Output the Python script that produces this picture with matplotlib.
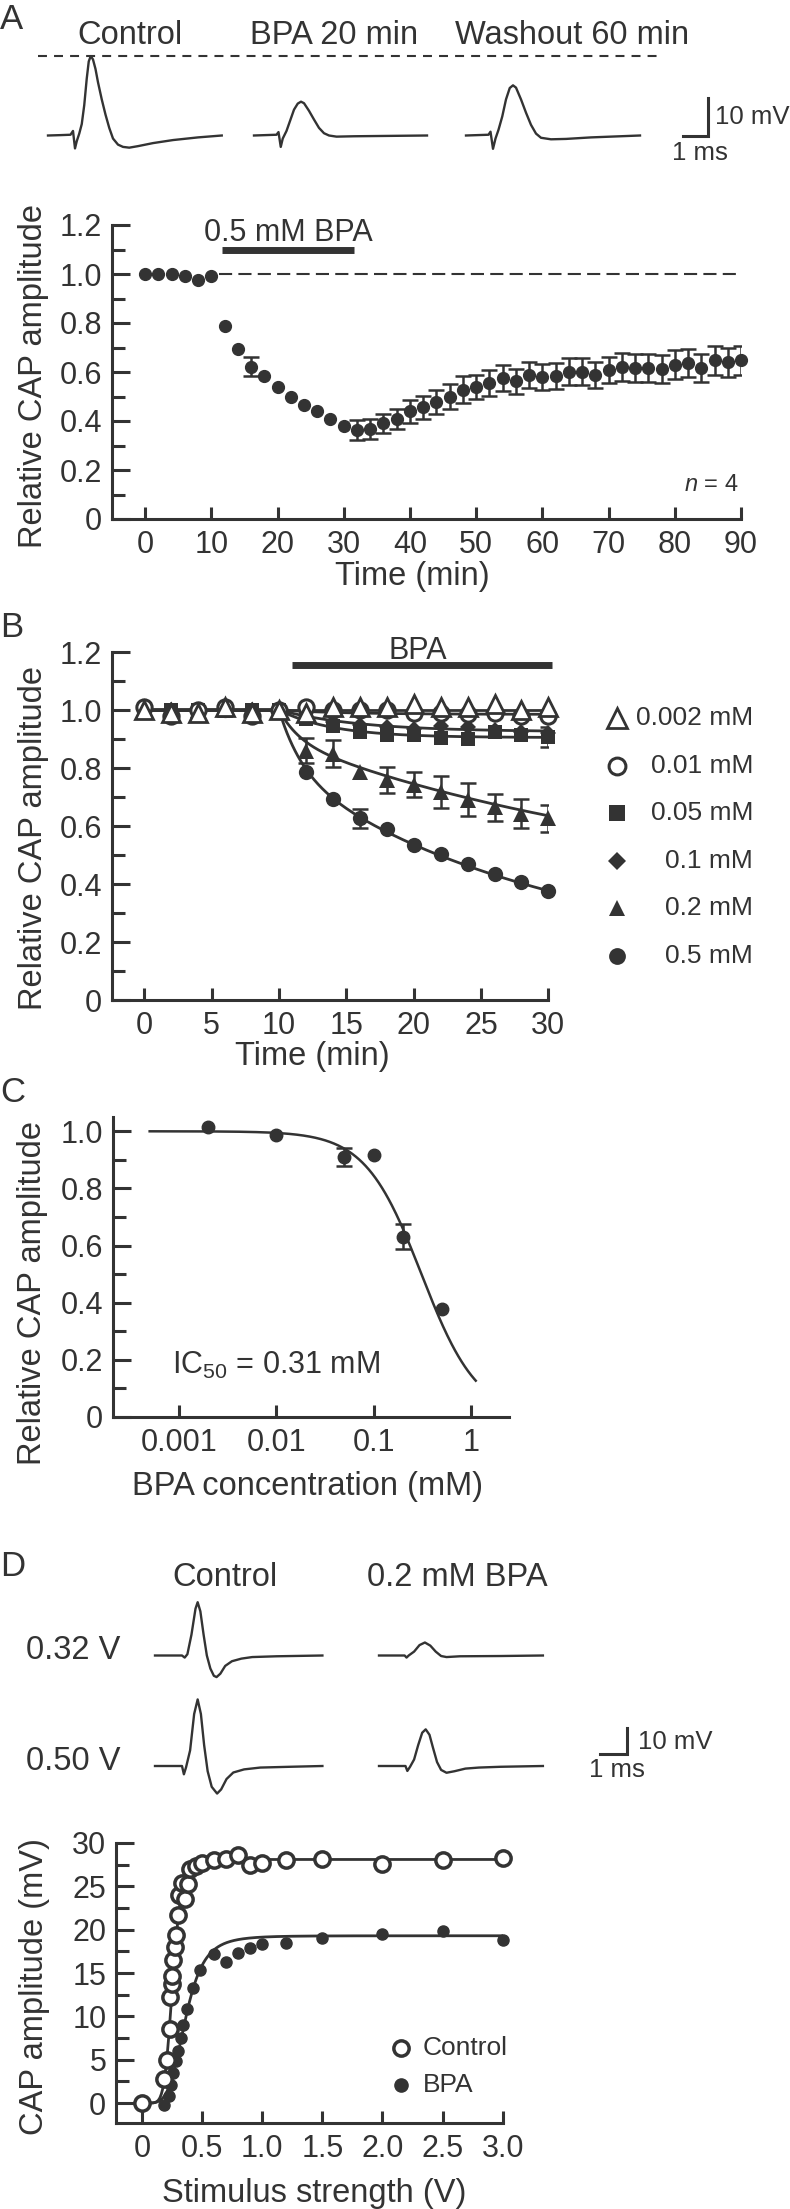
"""
BPA block of compound action potentials - four panel figure (A-D).
"""

import numpy as np
import matplotlib
matplotlib.use("Agg")
import matplotlib.pyplot as plt
from matplotlib.ticker import MultipleLocator, FixedLocator, FuncFormatter, NullLocator

# ---------------------------------------------------------------------------
# DATA
# ---------------------------------------------------------------------------

# A, example CAP traces: time (ms) and voltage (mV, relative to baseline)
A_CTRL_T = [0, 0.5, 0.9, 1.0, 1.08, 1.15, 1.25, 1.35, 1.45, 1.55, 1.63, 1.71, 1.8, 1.9,
            2.0, 2.15, 2.3, 2.45, 2.6, 2.8, 3.0, 3.25, 3.6, 4.2, 5.0, 6.0, 6.95]
A_CTRL_V = [0, 0.1, 0.2, 1.2, -3.4, -1.5, 0.5, 3.0, 8.0, 15.0, 19.5, 20.9, 20.0, 17.5,
            14.0, 9.5, 5.5, 2.0, -0.8, -2.4, -3.0, -3.2, -2.8, -2.0, -1.2, -0.5, 0]
A_BPA_T = [0, 0.9, 0.98, 1.07, 1.15, 1.3, 1.45, 1.6, 1.75, 1.88, 2.0, 2.2, 2.4, 2.6,
           2.8, 3.0, 3.3, 4.0, 6.92]
A_BPA_V = [0, 0.2, 0.9, -3.0, -0.8, 1.2, 4.0, 6.8, 8.4, 8.9, 8.5, 6.5, 4.2, 2.0,
           0.6, 0.0, -0.3, -0.2, 0]
A_WASH_T = [0, 0.9, 0.98, 1.08, 1.18, 1.3, 1.45, 1.6, 1.75, 1.88, 2.0, 2.2, 2.4, 2.6,
            2.8, 3.0, 3.4, 4.0, 5.0, 6.96]
A_WASH_V = [0, 0.2, 1.0, -3.5, -0.8, 1.5, 5.0, 9.5, 12.5, 13.2, 12.6, 9.5, 6.0, 2.8,
            0.5, -0.6, -1.0, -0.9, -0.5, 0]
A_TRACE_TITLES = ["Control", "BPA 20 min", "Washout 60 min"]

# A, time course with 0.5 mM BPA
A_TIME = [0, 2, 4, 6, 8, 10, 12, 14, 16, 18, 20, 22, 24, 26, 28, 30, 32, 34, 36, 38,
          40, 42, 44, 46, 48, 50, 52, 54, 56, 58, 60, 62, 64, 66, 68, 70, 72, 74, 76,
          78, 80, 82, 84, 86, 88, 90]
A_AMP = [1.000, 0.999, 0.998, 0.990, 0.975, 0.993, 0.788, 0.693, 0.622, 0.585,
         0.539, 0.500, 0.467, 0.442, 0.409, 0.379, 0.363, 0.368, 0.390, 0.409,
         0.440, 0.457, 0.476, 0.500, 0.528, 0.539, 0.555, 0.575, 0.562, 0.587,
         0.579, 0.582, 0.602, 0.602, 0.589, 0.609, 0.620, 0.616, 0.616, 0.612,
         0.629, 0.636, 0.616, 0.647, 0.639, 0.647]
A_ERR = [0, 0, 0, 0, 0, 0, 0, 0, 0.038, 0, 0, 0, 0, 0, 0, 0, 0.040, 0.040, 0.040, 0.040,
         0.047, 0.047, 0.049, 0.050, 0.054, 0.050, 0.054, 0.054, 0.052, 0.054,
         0.054, 0.053, 0.054, 0.054, 0.053, 0.054, 0.057, 0.056, 0.057, 0.057,
         0.059, 0.058, 0.058, 0.059, 0.059, 0.059]
A_BPA_ON = [11.6, 31.6]
A_N = 4

# B, time course for each concentration
B_TIME = [0, 2, 4, 6, 8, 10, 12, 14, 16, 18, 20, 22, 24, 26, 28, 30]
B_LABELS = ["0.002 mM", "0.01 mM", "0.05 mM", "0.1 mM", "0.2 mM", "0.5 mM"]
B_AMP = [
    [1.00, 0.99, 0.99, 1.01, 0.99, 1.00, 0.99, 1.01, 1.01, 1.01, 1.02, 1.01, 1.01, 1.02, 1.00, 1.01],
    [1.01, 0.98, 1.00, 1.01, 0.98, 1.00, 1.01, 1.00, 1.00, 1.00, 0.99, 0.99, 0.985, 0.99, 0.98, 0.98],
    [1.00, 1.00, 1.00, 1.00, 1.00, 1.00, 0.97, 0.945, 0.925, 0.915, 0.914, 0.903, 0.90, 0.925, 0.914, 0.907],
    [1.00, 1.00, 1.00, 1.00, 1.00, 1.00, 0.975, 0.96, 0.95, 0.94, 0.935, 0.945, 0.94, 0.93, 0.925, 0.92],
    [1.00, 1.00, 1.00, 1.00, 1.00, 1.00, 0.86, 0.85, 0.787, 0.76, 0.743, 0.718, 0.69, 0.664, 0.643, 0.626],
    [1.00, 0.99, 1.00, 1.00, 0.99, 1.00, 0.787, 0.692, 0.626, 0.588, 0.536, 0.505, 0.469, 0.436, 0.408, 0.377],
]
B_ERR = [
    [0] * 16,
    [0] * 16,
    [0, 0, 0, 0, 0, 0, 0, 0, 0, 0, 0, 0, 0, 0, 0, 0.033],
    [0] * 16,
    [0, 0, 0, 0, 0, 0, 0.043, 0.045, 0, 0.045, 0.044, 0.055, 0.057, 0.048, 0.050, 0.045],
    [0, 0, 0, 0, 0, 0, 0, 0, 0.034, 0, 0, 0, 0, 0, 0, 0],
]
# exponential fits: plateau, fast amplitude, fast tau, slow tau (min), onset 10 min
B_PLATEAU = [1.0, 0.985, 0.905, 0.925, 0.358, 0.132]
B_FAST_AMP = [0.0, 0.0, 0.0, 0.0, 0.102, 0.203]
B_TAU_FAST = [1.0, 1.0, 1.0, 1.0, 1.5, 1.7]
B_TAU_SLOW = [5.0, 5.0, 4.0, 6.0, 30.0, 20.0]
B_ONSET = 10
B_BPA_ON = [11.0, 30.3]

# C, concentration-response
C_CONC = [0.002, 0.01, 0.05, 0.1, 0.2, 0.5]
C_AMP = [1.015, 0.986, 0.910, 0.918, 0.631, 0.378]
C_ERR = [0, 0, 0.032, 0, 0.044, 0]
C_IC50 = 0.31
C_HILL = 1.5
C_FIT_RANGE = [5e-4, 1.12]

# D, example traces at two stimulus strengths (ms, mV)
D_CTRL_032_T = [0, 1.0, 1.1, 1.2, 1.35, 1.5, 1.58, 1.68, 1.8, 1.92, 2.05, 2.18, 2.28,
                2.42, 2.6, 2.85, 3.2, 3.6, 4.5, 6.2]
D_CTRL_032_V = [0, 0, -0.8, 0.5, 8.0, 18.0, 20.5, 17.0, 8.0, 0, -5.0, -7.8, -8.3,
                -7.0, -4.0, -2.2, -1.2, -0.6, -0.3, 0]
D_CTRL_050_T = [0, 1.0, 1.07, 1.15, 1.3, 1.45, 1.58, 1.7, 1.82, 1.95, 2.1, 2.3, 2.45,
                2.65, 2.9, 3.3, 3.9, 5.0, 6.2]
D_CTRL_050_V = [0, 0, -3.2, -0.5, 6.0, 20.0, 25.6, 20.0, 8.0, -2.0, -8.0, -10.6, -9.0,
                -5.0, -2.5, -1.3, -0.6, -0.3, 0]
D_BPA_032_T = [0, 0.95, 1.02, 1.1, 1.3, 1.5, 1.7, 1.9, 2.1, 2.3, 2.5, 3.0, 4.5, 6.07]
D_BPA_032_V = [0, 0, -0.8, 0, 1.5, 4.0, 5.0, 3.8, 1.5, -0.2, -0.6, -0.3, -0.2, 0]
D_BPA_050_T = [0, 0.98, 1.05, 1.15, 1.3, 1.45, 1.6, 1.73, 1.87, 2.0, 2.15, 2.3, 2.5,
               2.8, 3.2, 3.7, 4.5, 6.07]
D_BPA_050_V = [0, 0, -1.9, -0.3, 2.5, 8.0, 12.8, 14.1, 12.0, 7.0, 1.5, -1.5, -2.6,
               -2.0, -1.0, -0.6, -0.3, 0]
D_ROW_LABELS = ["0.32 V", "0.50 V"]
D_COL_LABELS = ["Control", "0.2 mM BPA"]

# D, input-output relation
D_CTRL_V = [0, 0.18, 0.21, 0.23, 0.23, 0.25, 0.25, 0.26, 0.27, 0.28, 0.30, 0.31, 0.33,
            0.36, 0.38, 0.40, 0.45, 0.50, 0.60, 0.70, 0.80, 0.90, 1.0, 1.2, 1.5, 2.0,
            2.5, 3.0]
D_CTRL_AMP = [0, 2.8, 5.0, 8.5, 12.2, 13.7, 14.6, 16.5, 18.0, 19.4, 21.7, 24.0, 25.4,
              23.5, 25.3, 27.0, 27.4, 27.7, 28.0, 28.2, 28.6, 27.5, 27.7, 28.0, 28.2,
              27.6, 28.0, 28.3]
D_BPA_V = [0, 0.18, 0.22, 0.24, 0.26, 0.28, 0.30, 0.32, 0.34, 0.37, 0.42, 0.48, 0.60,
           0.70, 0.80, 0.90, 1.0, 1.2, 1.5, 2.0, 2.5, 3.0]
D_BPA_AMP = [0, -0.2, 0.8, 2.1, 3.5, 4.8, 6.0, 7.5, 9.0, 10.8, 13.3, 15.4, 17.2, 16.3,
             17.3, 17.9, 18.3, 18.5, 19.0, 19.5, 19.9, 18.8]
D_LEGEND = ["Control", "BPA"]
# Hill fits: max amplitude (mV), half-activation (V), slope
D_CTRL_FIT = [28.1, 0.255, 7.0]
D_BPA_FIT = [19.3, 0.36, 4.7]

# ---------------------------------------------------------------------------
# STYLE / LAYOUT
# ---------------------------------------------------------------------------

W, H = 790, 2209
INK = "#333333"
TICK_FS = 22
LABEL_FS = 23.5
HEAD_FS = 23.5
PANEL_FS = 25
LEG_FS = 19
SCALE_FS = 18.5

plt.rcParams["font.family"] = ["Liberation Sans", "DejaVu Sans"]
plt.rcParams["mathtext.fontset"] = "custom"
plt.rcParams["mathtext.rm"] = "Liberation Sans"
plt.rcParams["mathtext.it"] = "Liberation Sans:italic"
plt.rcParams["text.color"] = INK
plt.rcParams["axes.labelcolor"] = INK

fig = plt.figure(figsize=(W / 100, H / 100), dpi=100)


def px_axes(left, top, right, bottom):
    ax = fig.add_axes([left / W, 1 - bottom / H, (right - left) / W, (bottom - top) / H])
    ax.patch.set_visible(False)
    return ax


def style_axes(ax):
    for s in ("top", "right"):
        ax.spines[s].set_visible(False)
    for s in ("left", "bottom"):
        ax.spines[s].set_linewidth(2.2)
        ax.spines[s].set_color(INK)
    ax.tick_params(which="both", direction="in", color=INK, width=2.2,
                   labelsize=TICK_FS, labelcolor=INK)
    ax.tick_params(axis="y", which="major", length=13, pad=7)
    ax.tick_params(axis="y", which="minor", length=9)
    ax.tick_params(axis="x", which="major", length=9, pad=8)


def place_labels(ax, box, xlabel, xl_x, xl_top, ylabel, yl_x, yl_y):
    left, top, right, bottom = box
    ax.set_xlabel(xlabel, fontsize=LABEL_FS)
    ax.xaxis.set_label_coords((xl_x - left) / (right - left), (bottom - xl_top) / (bottom - top))
    ax.set_ylabel(ylabel, fontsize=LABEL_FS)
    ax.yaxis.set_label_coords((yl_x - left) / (right - left), (bottom - yl_y) / (bottom - top))


def trace_axes(top, bottom, base, px_ms, px_mv):
    ax = px_axes(0, top, W, bottom)
    ax.set_xlim(0, W / px_ms)
    ax.set_ylim(-(bottom - base) / px_mv, (base - top) / px_mv)
    ax.axis("off")
    return ax


def one_dec(v, _):
    return "0" if abs(v) < 1e-9 else f"{v:.1f}"


# overlay in pixel space for panel letters, headers and legends
lay = px_axes(0, 0, W, H)
lay.set_xlim(0, W)
lay.set_ylim(H, 0)
lay.axis("off")
lay.set_zorder(10)

for letter, top in zip("ABCD", [3, 611, 1076, 1550]):
    lay.text(0, top, letter, fontsize=PANEL_FS, ha="left", va="top")

# ---------------------------------------------------------------------------
# A - traces
# ---------------------------------------------------------------------------
PX_MS_A, PX_MV_A = 25, 3.8
axTA = trace_axes(40, 180, 135.5, PX_MS_A, PX_MV_A)
traces_a = [(A_CTRL_T, A_CTRL_V, 48), (A_BPA_T, A_BPA_V, 254), (A_WASH_T, A_WASH_V, 466)]
for (t, v, x0), title, xc in zip(traces_a, A_TRACE_TITLES, [130, 334, 572]):
    axTA.plot(np.array(t) + x0 / PX_MS_A, v, color=INK, lw=1.7)
    lay.text(xc, 35, title, fontsize=HEAD_FS, ha="center", va="center")
peak = max(A_CTRL_V)
axTA.plot([38 / PX_MS_A, 657 / PX_MS_A], [peak, peak], color=INK, lw=1.5,
          ls=(0, (4.3, 3.4)))
c = 708 / PX_MS_A
axTA.plot([c - 1, c, c], [0, 0, 10], color=INK, lw=2.2, solid_joinstyle="miter")
lay.text(715, 117, "10 mV", fontsize=SCALE_FS, ha="left", va="center")
lay.text(700, 153, "1 ms", fontsize=SCALE_FS, ha="center", va="center")

# ---------------------------------------------------------------------------
# A - time course
# ---------------------------------------------------------------------------
boxA = (112, 225, 741, 519)
axA = px_axes(*boxA)
style_axes(axA)
axA.set_xlim(-5, 90)
axA.set_ylim(0, 1.2)
axA.xaxis.set_major_locator(MultipleLocator(10))
axA.yaxis.set_major_locator(MultipleLocator(0.2))
axA.yaxis.set_minor_locator(MultipleLocator(0.1))
axA.yaxis.set_major_formatter(FuncFormatter(one_dec))

t = np.array(A_TIME)
amp = np.array(A_AMP)
err = np.array(A_ERR)
m = err > 0
axA.errorbar(t[m], amp[m], yerr=err[m], fmt="none", ecolor=INK, elinewidth=1.8,
             capsize=5.5, capthick=1.8)
axA.plot(t, amp, "o", ms=8.5, color=INK, clip_on=False, zorder=3)
axA.plot([11.2, 90], [1, 1], color=INK, lw=1.5, ls=(0, (6.3, 3.0)), zorder=1)
axA.plot(A_BPA_ON, [1.10, 1.10], color=INK, lw=5, solid_capstyle="butt", clip_on=False)
axA.text(np.mean(A_BPA_ON), 1.135, "0.5 mM BPA", fontsize=22, ha="center", va="baseline")
axA.text(89.6, 0.14, f"$n$ = {A_N}", fontsize=17, ha="right", va="center")
place_labels(axA, boxA, "Time (min)", 412, 561, "Relative CAP amplitude", 49, 376)

# ---------------------------------------------------------------------------
# B - concentration time courses
# ---------------------------------------------------------------------------
B_STYLES = [
    dict(marker="^", ms=12.5, mfc="white", mew=2.0),
    dict(marker="o", ms=11, mfc="white", mew=2.2),
    dict(marker="s", ms=10, mfc=INK, mew=0),
    dict(marker="D", ms=8, mfc=INK, mew=0),
    dict(marker="^", ms=11, mfc=INK, mew=0),
    dict(marker="o", ms=11, mfc=INK, mew=0),
]

boxB = (112, 652, 548.4, 1000)
axB = px_axes(*boxB)
style_axes(axB)
axB.set_xlim(-2.4, 30)
axB.set_ylim(0, 1.2)
axB.xaxis.set_major_locator(MultipleLocator(5))
axB.yaxis.set_major_locator(MultipleLocator(0.2))
axB.yaxis.set_minor_locator(MultipleLocator(0.1))
axB.yaxis.set_major_formatter(FuncFormatter(one_dec))

tb = np.array(B_TIME)
t_fit = np.linspace(0, 30, 301)
s_fit = np.clip(t_fit - B_ONSET, 0, None)
order = [5, 4, 3, 2, 1, 0]
for i in order:
    slow = 1 - B_PLATEAU[i] - B_FAST_AMP[i]
    fit = (B_PLATEAU[i] + B_FAST_AMP[i] * np.exp(-s_fit / B_TAU_FAST[i])
           + slow * np.exp(-s_fit / B_TAU_SLOW[i]))
    axB.plot(t_fit, fit, color=INK, lw=2.0, zorder=2)
for i in order:
    y = np.array(B_AMP[i])
    e = np.array(B_ERR[i])
    m = e > 0
    if m.any():
        axB.errorbar(tb[m], y[m], yerr=e[m], fmt="none", ecolor=INK, elinewidth=1.8,
                     capsize=5.8, capthick=1.8, zorder=2)
    axB.plot(tb, y, ls="none", mec=INK, clip_on=False, zorder=3 + (5 - i), **B_STYLES[i])
axB.plot(B_BPA_ON, [1.155, 1.155], color=INK, lw=5, solid_capstyle="butt", clip_on=False)
axB.text(20.3, 1.175, "BPA", fontsize=22, ha="center", va="baseline")
place_labels(axB, boxB, "Time (min)", 312, 1041, "Relative CAP amplitude", 49, 838)

# legend for B
for i, lab in enumerate(B_LABELS):
    y = 718 + 47.6 * i
    st = dict(B_STYLES[i])
    st["ms"] = st["ms"] * 1.1
    lay.plot([617], [y], ls="none", mec=INK, **st)
    lay.text(753, y, lab, fontsize=LEG_FS, ha="right", va="center")

# ---------------------------------------------------------------------------
# C - concentration-response
# ---------------------------------------------------------------------------
boxC = (113, 1117, 509, 1417)
axC = px_axes(*boxC)
style_axes(axC)
axC.set_xscale("log")
axC.set_xlim(2.1e-4, 2.46)
axC.set_ylim(0, 1.05)
axC.xaxis.set_major_locator(FixedLocator([0.001, 0.01, 0.1, 1]))
axC.xaxis.set_minor_locator(NullLocator())
axC.xaxis.set_major_formatter(FuncFormatter(lambda v, _: f"{v:g}"))
axC.yaxis.set_major_locator(MultipleLocator(0.2))
axC.yaxis.set_minor_locator(MultipleLocator(0.1))
axC.yaxis.set_major_formatter(FuncFormatter(one_dec))

conc_fit = np.logspace(np.log10(C_FIT_RANGE[0]), np.log10(C_FIT_RANGE[1]), 300)
axC.plot(conc_fit, 1 / (1 + (conc_fit / C_IC50) ** C_HILL), color=INK, lw=1.8)
cc = np.array(C_CONC)
ca = np.array(C_AMP)
ce = np.array(C_ERR)
m = ce > 0
axC.errorbar(cc[m], ca[m], yerr=ce[m], fmt="none", ecolor=INK, elinewidth=1.8,
             capsize=6, capthick=1.8)
axC.plot(cc, ca, "o", ms=9, color=INK, zorder=3, clip_on=False)
axC.text(8.5e-4, 0.18, r"IC$_\mathregular{50}$ = " + f"{C_IC50} mM", fontsize=22,
         ha="left", va="center")
place_labels(axC, boxC, "BPA concentration (mM)", 307, 1471, "Relative CAP amplitude", 48, 1293)

# ---------------------------------------------------------------------------
# D - traces
# ---------------------------------------------------------------------------
PX_MS_D, PX_MV_D = 27, 2.6
BASE_D = [1655.5, 1766]
axTD = trace_axes(1600, 1800, BASE_D[0], PX_MS_D, PX_MV_D)
traces_d = [
    [(D_CTRL_032_T, D_CTRL_032_V), (D_BPA_032_T, D_BPA_032_V)],
    [(D_CTRL_050_T, D_CTRL_050_V), (D_BPA_050_T, D_BPA_050_V)],
]
for row, base in enumerate(BASE_D):
    off = -(base - BASE_D[0]) / PX_MV_D
    for col, x0 in enumerate([155, 379]):
        t, v = traces_d[row][col]
        axTD.plot(np.array(t) + x0 / PX_MS_D, np.array(v) + off, color=INK, lw=1.7)
    lay.text(73, base - 5, D_ROW_LABELS[row], fontsize=HEAD_FS, ha="center", va="center")
for xc, lab in zip([225, 457], D_COL_LABELS):
    lay.text(xc, 1578, lab, fontsize=HEAD_FS, ha="center", va="center")
c = 627 / PX_MS_D
y0 = -(1754 - BASE_D[0]) / PX_MV_D
axTD.plot([c - 1, c, c], [y0, y0, y0 + 10], color=INK, lw=2.2, solid_joinstyle="miter")
lay.text(638, 1742, "10 mV", fontsize=SCALE_FS, ha="left", va="center")
lay.text(617, 1770, "1 ms", fontsize=SCALE_FS, ha="center", va="center")

# ---------------------------------------------------------------------------
# D - input-output relation
# ---------------------------------------------------------------------------
boxD = (116, 1843, 502.7, 2123)
axD = px_axes(*boxD)
style_axes(axD)
axD.set_xlim(-0.217, 3.0)
axD.set_ylim(-2.3, 30)
axD.xaxis.set_major_locator(MultipleLocator(0.5))
axD.xaxis.set_major_formatter(FuncFormatter(one_dec))
axD.yaxis.set_major_locator(MultipleLocator(5))
axD.yaxis.set_minor_locator(MultipleLocator(2.5))

v_fit = np.linspace(0, 3, 601)
for ymax, v50, h in (D_CTRL_FIT, D_BPA_FIT):
    axD.plot(v_fit, ymax * v_fit ** h / (v_fit ** h + v50 ** h), color=INK, lw=2.0, zorder=2)
axD.plot(D_BPA_V, D_BPA_AMP, "o", ms=8, color=INK, clip_on=False, zorder=3)
axD.plot(D_CTRL_V, D_CTRL_AMP, "o", ms=11, mfc="white", mec=INK, mew=2.5,
         clip_on=False, zorder=4)
place_labels(axD, boxD, "Stimulus strength (V)", 314, 2178, "CAP amplitude (mV)", 50, 1987)

# legend for D
lay.plot([401], [2048], "o", ms=11, mfc="white", mec=INK, mew=2.5)
lay.text(423, 2048, D_LEGEND[0], fontsize=LEG_FS, ha="left", va="center")
lay.plot([401], [2085], "o", ms=9.5, color=INK)
lay.text(423, 2085, D_LEGEND[1], fontsize=LEG_FS, ha="left", va="center")

fig.savefig("out.png", dpi=100)
